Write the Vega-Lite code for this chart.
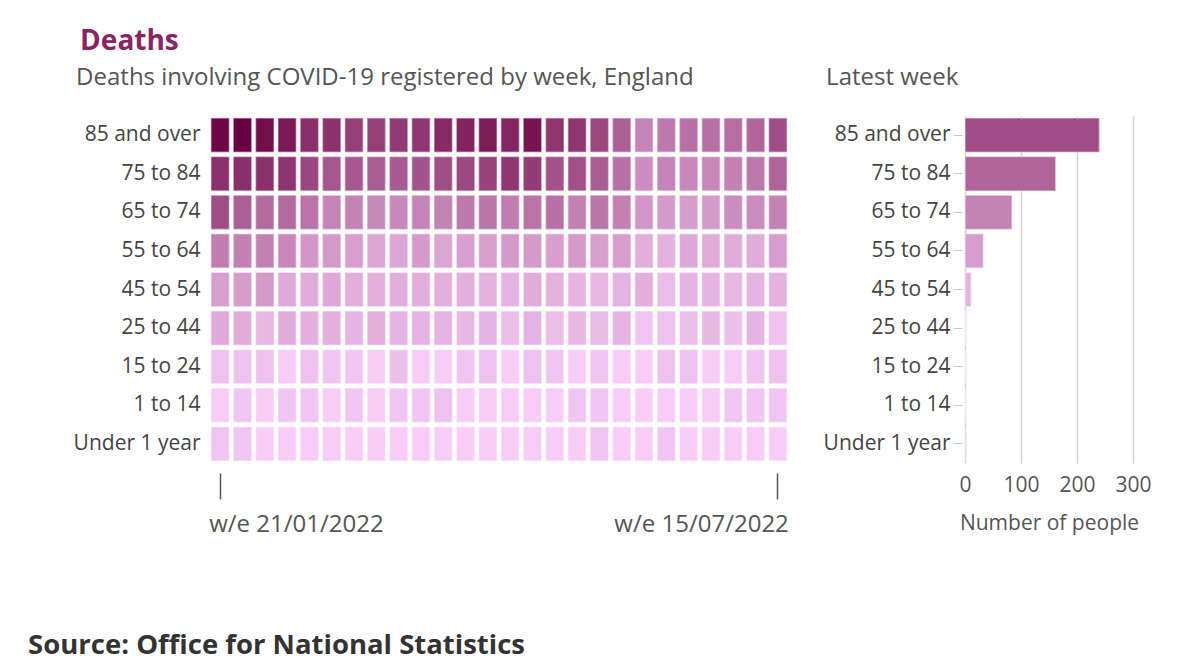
{
  "$schema": "https://vega.github.io/schema/vega-lite/v6.json",
  "background": "white",
  "padding": {"left": 28, "top": 28, "right": 5, "bottom": 5},
  "title": {"text": "Deaths", "anchor": "start", "fontSize": 28, "fontWeight": "bold", "color": "#8c2362", "font": "Open Sans", "offset": 10, "dx": 52},
  "config": {
    "view": {"stroke": null},
    "font": "Open Sans",
    "axis": {"labelFont": "Open Sans", "titleFont": "Open Sans"}
  },
  "data": {"values": [
    {"age": "85 and over", "week": "2022-01-21", "deaths": 584},
    {"age": "85 and over", "week": "2022-01-28", "deaths": 620},
    {"age": "85 and over", "week": "2022-02-04", "deaths": 543},
    {"age": "85 and over", "week": "2022-02-11", "deaths": 479},
    {"age": "85 and over", "week": "2022-02-18", "deaths": 370},
    {"age": "85 and over", "week": "2022-02-25", "deaths": 357},
    {"age": "85 and over", "week": "2022-03-04", "deaths": 293},
    {"age": "85 and over", "week": "2022-03-11", "deaths": 299},
    {"age": "85 and over", "week": "2022-03-18", "deaths": 318},
    {"age": "85 and over", "week": "2022-03-25", "deaths": 337},
    {"age": "85 and over", "week": "2022-04-01", "deaths": 391},
    {"age": "85 and over", "week": "2022-04-08", "deaths": 420},
    {"age": "85 and over", "week": "2022-04-15", "deaths": 456},
    {"age": "85 and over", "week": "2022-04-22", "deaths": 413},
    {"age": "85 and over", "week": "2022-04-29", "deaths": 503},
    {"age": "85 and over", "week": "2022-05-06", "deaths": 337},
    {"age": "85 and over", "week": "2022-05-13", "deaths": 337},
    {"age": "85 and over", "week": "2022-05-20", "deaths": 264},
    {"age": "85 and over", "week": "2022-05-27", "deaths": 180},
    {"age": "85 and over", "week": "2022-06-03", "deaths": 78},
    {"age": "85 and over", "week": "2022-06-10", "deaths": 101},
    {"age": "85 and over", "week": "2022-06-17", "deaths": 124},
    {"age": "85 and over", "week": "2022-06-24", "deaths": 124},
    {"age": "85 and over", "week": "2022-07-01", "deaths": 136},
    {"age": "85 and over", "week": "2022-07-08", "deaths": 157},
    {"age": "85 and over", "week": "2022-07-15", "deaths": 240},
    {"age": "75 to 84", "week": "2022-01-21", "deaths": 364},
    {"age": "75 to 84", "week": "2022-01-28", "deaths": 370},
    {"age": "75 to 84", "week": "2022-02-04", "deaths": 364},
    {"age": "75 to 84", "week": "2022-02-11", "deaths": 344},
    {"age": "75 to 84", "week": "2022-02-18", "deaths": 270},
    {"age": "75 to 84", "week": "2022-02-25", "deaths": 210},
    {"age": "75 to 84", "week": "2022-03-04", "deaths": 200},
    {"age": "75 to 84", "week": "2022-03-11", "deaths": 185},
    {"age": "75 to 84", "week": "2022-03-18", "deaths": 194},
    {"age": "75 to 84", "week": "2022-03-25", "deaths": 215},
    {"age": "75 to 84", "week": "2022-04-01", "deaths": 241},
    {"age": "75 to 84", "week": "2022-04-08", "deaths": 264},
    {"age": "75 to 84", "week": "2022-04-15", "deaths": 281},
    {"age": "75 to 84", "week": "2022-04-22", "deaths": 337},
    {"age": "75 to 84", "week": "2022-04-29", "deaths": 312},
    {"age": "75 to 84", "week": "2022-05-06", "deaths": 225},
    {"age": "75 to 84", "week": "2022-05-13", "deaths": 231},
    {"age": "75 to 84", "week": "2022-05-20", "deaths": 185},
    {"age": "75 to 84", "week": "2022-05-27", "deaths": 124},
    {"age": "75 to 84", "week": "2022-06-03", "deaths": 58},
    {"age": "75 to 84", "week": "2022-06-10", "deaths": 78},
    {"age": "75 to 84", "week": "2022-06-17", "deaths": 72},
    {"age": "75 to 84", "week": "2022-06-24", "deaths": 72},
    {"age": "75 to 84", "week": "2022-07-01", "deaths": 88},
    {"age": "75 to 84", "week": "2022-07-08", "deaths": 105},
    {"age": "75 to 84", "week": "2022-07-15", "deaths": 162},
    {"age": "65 to 74", "week": "2022-01-21", "deaths": 241},
    {"age": "65 to 74", "week": "2022-01-28", "deaths": 180},
    {"age": "65 to 74", "week": "2022-02-04", "deaths": 144},
    {"age": "65 to 74", "week": "2022-02-11", "deaths": 144},
    {"age": "65 to 74", "week": "2022-02-18", "deaths": 116},
    {"age": "65 to 74", "week": "2022-02-25", "deaths": 78},
    {"age": "65 to 74", "week": "2022-03-04", "deaths": 81},
    {"age": "65 to 74", "week": "2022-03-11", "deaths": 69},
    {"age": "65 to 74", "week": "2022-03-18", "deaths": 69},
    {"age": "65 to 74", "week": "2022-03-25", "deaths": 78},
    {"age": "65 to 74", "week": "2022-04-01", "deaths": 84},
    {"age": "65 to 74", "week": "2022-04-08", "deaths": 105},
    {"age": "65 to 74", "week": "2022-04-15", "deaths": 112},
    {"age": "65 to 74", "week": "2022-04-22", "deaths": 94},
    {"age": "65 to 74", "week": "2022-04-29", "deaths": 120},
    {"age": "65 to 74", "week": "2022-05-06", "deaths": 124},
    {"age": "65 to 74", "week": "2022-05-13", "deaths": 88},
    {"age": "65 to 74", "week": "2022-05-20", "deaths": 112},
    {"age": "65 to 74", "week": "2022-05-27", "deaths": 88},
    {"age": "65 to 74", "week": "2022-06-03", "deaths": 43},
    {"age": "65 to 74", "week": "2022-06-10", "deaths": 38},
    {"age": "65 to 74", "week": "2022-06-17", "deaths": 36},
    {"age": "65 to 74", "week": "2022-06-24", "deaths": 38},
    {"age": "65 to 74", "week": "2022-07-01", "deaths": 58},
    {"age": "65 to 74", "week": "2022-07-08", "deaths": 63},
    {"age": "65 to 74", "week": "2022-07-15", "deaths": 84},
    {"age": "55 to 64", "week": "2022-01-21", "deaths": 94},
    {"age": "55 to 64", "week": "2022-01-28", "deaths": 88},
    {"age": "55 to 64", "week": "2022-02-04", "deaths": 88},
    {"age": "55 to 64", "week": "2022-02-11", "deaths": 72},
    {"age": "55 to 64", "week": "2022-02-18", "deaths": 43},
    {"age": "55 to 64", "week": "2022-02-25", "deaths": 40},
    {"age": "55 to 64", "week": "2022-03-04", "deaths": 32},
    {"age": "55 to 64", "week": "2022-03-11", "deaths": 24},
    {"age": "55 to 64", "week": "2022-03-18", "deaths": 23},
    {"age": "55 to 64", "week": "2022-03-25", "deaths": 38},
    {"age": "55 to 64", "week": "2022-04-01", "deaths": 24},
    {"age": "55 to 64", "week": "2022-04-08", "deaths": 30},
    {"age": "55 to 64", "week": "2022-04-15", "deaths": 32},
    {"age": "55 to 64", "week": "2022-04-22", "deaths": 38},
    {"age": "55 to 64", "week": "2022-04-29", "deaths": 38},
    {"age": "55 to 64", "week": "2022-05-06", "deaths": 34},
    {"age": "55 to 64", "week": "2022-05-13", "deaths": 40},
    {"age": "55 to 64", "week": "2022-05-20", "deaths": 32},
    {"age": "55 to 64", "week": "2022-05-27", "deaths": 34},
    {"age": "55 to 64", "week": "2022-06-03", "deaths": 15},
    {"age": "55 to 64", "week": "2022-06-10", "deaths": 11},
    {"age": "55 to 64", "week": "2022-06-17", "deaths": 19},
    {"age": "55 to 64", "week": "2022-06-24", "deaths": 16},
    {"age": "55 to 64", "week": "2022-07-01", "deaths": 16},
    {"age": "55 to 64", "week": "2022-07-08", "deaths": 16},
    {"age": "55 to 64", "week": "2022-07-15", "deaths": 33},
    {"age": "45 to 54", "week": "2022-01-21", "deaths": 32},
    {"age": "45 to 54", "week": "2022-01-28", "deaths": 36},
    {"age": "45 to 54", "week": "2022-02-04", "deaths": 40},
    {"age": "45 to 54", "week": "2022-02-11", "deaths": 18},
    {"age": "45 to 54", "week": "2022-02-18", "deaths": 16},
    {"age": "45 to 54", "week": "2022-02-25", "deaths": 19},
    {"age": "45 to 54", "week": "2022-03-04", "deaths": 14},
    {"age": "45 to 54", "week": "2022-03-11", "deaths": 12},
    {"age": "45 to 54", "week": "2022-03-18", "deaths": 14},
    {"age": "45 to 54", "week": "2022-03-25", "deaths": 14},
    {"age": "45 to 54", "week": "2022-04-01", "deaths": 12},
    {"age": "45 to 54", "week": "2022-04-08", "deaths": 12},
    {"age": "45 to 54", "week": "2022-04-15", "deaths": 11},
    {"age": "45 to 54", "week": "2022-04-22", "deaths": 10},
    {"age": "45 to 54", "week": "2022-04-29", "deaths": 16},
    {"age": "45 to 54", "week": "2022-05-06", "deaths": 11},
    {"age": "45 to 54", "week": "2022-05-13", "deaths": 9},
    {"age": "45 to 54", "week": "2022-05-20", "deaths": 7},
    {"age": "45 to 54", "week": "2022-05-27", "deaths": 10},
    {"age": "45 to 54", "week": "2022-06-03", "deaths": 14},
    {"age": "45 to 54", "week": "2022-06-10", "deaths": 4},
    {"age": "45 to 54", "week": "2022-06-17", "deaths": 9},
    {"age": "45 to 54", "week": "2022-06-24", "deaths": 9},
    {"age": "45 to 54", "week": "2022-07-01", "deaths": 7},
    {"age": "45 to 54", "week": "2022-07-08", "deaths": 9},
    {"age": "45 to 54", "week": "2022-07-15", "deaths": 11},
    {"age": "25 to 44", "week": "2022-01-21", "deaths": 18},
    {"age": "25 to 44", "week": "2022-01-28", "deaths": 16},
    {"age": "25 to 44", "week": "2022-02-04", "deaths": 7},
    {"age": "25 to 44", "week": "2022-02-11", "deaths": 16},
    {"age": "25 to 44", "week": "2022-02-18", "deaths": 12},
    {"age": "25 to 44", "week": "2022-02-25", "deaths": 12},
    {"age": "25 to 44", "week": "2022-03-04", "deaths": 9},
    {"age": "25 to 44", "week": "2022-03-11", "deaths": 12},
    {"age": "25 to 44", "week": "2022-03-18", "deaths": 9},
    {"age": "25 to 44", "week": "2022-03-25", "deaths": 9},
    {"age": "25 to 44", "week": "2022-04-01", "deaths": 9},
    {"age": "25 to 44", "week": "2022-04-08", "deaths": 7},
    {"age": "25 to 44", "week": "2022-04-15", "deaths": 9},
    {"age": "25 to 44", "week": "2022-04-22", "deaths": 4},
    {"age": "25 to 44", "week": "2022-04-29", "deaths": 10},
    {"age": "25 to 44", "week": "2022-05-06", "deaths": 4},
    {"age": "25 to 44", "week": "2022-05-13", "deaths": 7},
    {"age": "25 to 44", "week": "2022-05-20", "deaths": 5},
    {"age": "25 to 44", "week": "2022-05-27", "deaths": 9},
    {"age": "25 to 44", "week": "2022-06-03", "deaths": 1},
    {"age": "25 to 44", "week": "2022-06-10", "deaths": 2},
    {"age": "25 to 44", "week": "2022-06-17", "deaths": 3},
    {"age": "25 to 44", "week": "2022-06-24", "deaths": 7},
    {"age": "25 to 44", "week": "2022-07-01", "deaths": 3},
    {"age": "25 to 44", "week": "2022-07-08", "deaths": 9},
    {"age": "25 to 44", "week": "2022-07-15", "deaths": 2},
    {"age": "15 to 24", "week": "2022-01-21", "deaths": 2},
    {"age": "15 to 24", "week": "2022-01-28", "deaths": 2},
    {"age": "15 to 24", "week": "2022-02-04", "deaths": 2},
    {"age": "15 to 24", "week": "2022-02-11", "deaths": 0},
    {"age": "15 to 24", "week": "2022-02-18", "deaths": 2},
    {"age": "15 to 24", "week": "2022-02-25", "deaths": 1},
    {"age": "15 to 24", "week": "2022-03-04", "deaths": 1},
    {"age": "15 to 24", "week": "2022-03-11", "deaths": 0},
    {"age": "15 to 24", "week": "2022-03-18", "deaths": 3},
    {"age": "15 to 24", "week": "2022-03-25", "deaths": 0},
    {"age": "15 to 24", "week": "2022-04-01", "deaths": 0},
    {"age": "15 to 24", "week": "2022-04-08", "deaths": 1},
    {"age": "15 to 24", "week": "2022-04-15", "deaths": 2},
    {"age": "15 to 24", "week": "2022-04-22", "deaths": 0},
    {"age": "15 to 24", "week": "2022-04-29", "deaths": 2},
    {"age": "15 to 24", "week": "2022-05-06", "deaths": 1},
    {"age": "15 to 24", "week": "2022-05-13", "deaths": 0},
    {"age": "15 to 24", "week": "2022-05-20", "deaths": 1},
    {"age": "15 to 24", "week": "2022-05-27", "deaths": 0},
    {"age": "15 to 24", "week": "2022-06-03", "deaths": 0},
    {"age": "15 to 24", "week": "2022-06-10", "deaths": 2},
    {"age": "15 to 24", "week": "2022-06-17", "deaths": 2},
    {"age": "15 to 24", "week": "2022-06-24", "deaths": 0},
    {"age": "15 to 24", "week": "2022-07-01", "deaths": 0},
    {"age": "15 to 24", "week": "2022-07-08", "deaths": 1},
    {"age": "15 to 24", "week": "2022-07-15", "deaths": 2},
    {"age": "1 to 14", "week": "2022-01-21", "deaths": 0},
    {"age": "1 to 14", "week": "2022-01-28", "deaths": 1},
    {"age": "1 to 14", "week": "2022-02-04", "deaths": 0},
    {"age": "1 to 14", "week": "2022-02-11", "deaths": 1},
    {"age": "1 to 14", "week": "2022-02-18", "deaths": 1},
    {"age": "1 to 14", "week": "2022-02-25", "deaths": 0},
    {"age": "1 to 14", "week": "2022-03-04", "deaths": 1},
    {"age": "1 to 14", "week": "2022-03-11", "deaths": 0},
    {"age": "1 to 14", "week": "2022-03-18", "deaths": 1},
    {"age": "1 to 14", "week": "2022-03-25", "deaths": 1},
    {"age": "1 to 14", "week": "2022-04-01", "deaths": 2},
    {"age": "1 to 14", "week": "2022-04-08", "deaths": 0},
    {"age": "1 to 14", "week": "2022-04-15", "deaths": 0},
    {"age": "1 to 14", "week": "2022-04-22", "deaths": 0},
    {"age": "1 to 14", "week": "2022-04-29", "deaths": 0},
    {"age": "1 to 14", "week": "2022-05-06", "deaths": 0},
    {"age": "1 to 14", "week": "2022-05-13", "deaths": 1},
    {"age": "1 to 14", "week": "2022-05-20", "deaths": 1},
    {"age": "1 to 14", "week": "2022-05-27", "deaths": 0},
    {"age": "1 to 14", "week": "2022-06-03", "deaths": 0},
    {"age": "1 to 14", "week": "2022-06-10", "deaths": 0},
    {"age": "1 to 14", "week": "2022-06-17", "deaths": 0},
    {"age": "1 to 14", "week": "2022-06-24", "deaths": 0},
    {"age": "1 to 14", "week": "2022-07-01", "deaths": 1},
    {"age": "1 to 14", "week": "2022-07-08", "deaths": 1},
    {"age": "1 to 14", "week": "2022-07-15", "deaths": 1},
    {"age": "Under 1 year", "week": "2022-01-21", "deaths": 1},
    {"age": "Under 1 year", "week": "2022-01-28", "deaths": 1},
    {"age": "Under 1 year", "week": "2022-02-04", "deaths": 0},
    {"age": "Under 1 year", "week": "2022-02-11", "deaths": 0},
    {"age": "Under 1 year", "week": "2022-02-18", "deaths": 0},
    {"age": "Under 1 year", "week": "2022-02-25", "deaths": 0},
    {"age": "Under 1 year", "week": "2022-03-04", "deaths": 0},
    {"age": "Under 1 year", "week": "2022-03-11", "deaths": 0},
    {"age": "Under 1 year", "week": "2022-03-18", "deaths": 0},
    {"age": "Under 1 year", "week": "2022-03-25", "deaths": 0},
    {"age": "Under 1 year", "week": "2022-04-01", "deaths": 0},
    {"age": "Under 1 year", "week": "2022-04-08", "deaths": 0},
    {"age": "Under 1 year", "week": "2022-04-15", "deaths": 0},
    {"age": "Under 1 year", "week": "2022-04-22", "deaths": 0},
    {"age": "Under 1 year", "week": "2022-04-29", "deaths": 0},
    {"age": "Under 1 year", "week": "2022-05-06", "deaths": 0},
    {"age": "Under 1 year", "week": "2022-05-13", "deaths": 0},
    {"age": "Under 1 year", "week": "2022-05-20", "deaths": 1},
    {"age": "Under 1 year", "week": "2022-05-27", "deaths": 0},
    {"age": "Under 1 year", "week": "2022-06-03", "deaths": 0},
    {"age": "Under 1 year", "week": "2022-06-10", "deaths": 1},
    {"age": "Under 1 year", "week": "2022-06-17", "deaths": 0},
    {"age": "Under 1 year", "week": "2022-06-24", "deaths": 0},
    {"age": "Under 1 year", "week": "2022-07-01", "deaths": 0},
    {"age": "Under 1 year", "week": "2022-07-08", "deaths": 0},
    {"age": "Under 1 year", "week": "2022-07-15", "deaths": 0}
  ]},
  "vconcat": [
    {
      "title": {"text": "Source: Office for National Statistics", "orient": "bottom", "anchor": "start", "fontSize": 27.5, "fontWeight": "bold", "color": "#333333", "font": "Open Sans", "dx": -45, "offset": 96},
      "spacing": 34,
      "hconcat": [
        {
          "title": {"text": "Deaths involving COVID-19 registered by week, England", "anchor": "start", "frame": "bounds", "fontSize": 24, "fontWeight": "normal", "color": "#555555", "font": "Open Sans", "offset": 26, "dx": 3},
          "width": 578,
          "height": 347,
          "mark": {"type": "rect", "stroke": "#ffffff", "strokeWidth": 1.5, "strokeOpacity": 0.45},
          "encoding": {
            "x": {
              "field": "week", "type": "ordinal",
              "scale": {"paddingInner": 0.17, "paddingOuter": 0.04},
              "axis": {
                "title": null, "values": ["2022-01-21", "2022-07-15"],
                "labelExpr": "'w/e ' + utcFormat(toDate(datum.value), '%d/%m/%Y')",
                "labelAngle": 0, "domain": false, "ticks": true, "tickSize": 26, "tickWidth": 1.5, "tickColor": "#555555",
                "offset": 10, "labelPadding": 13, "labelFontSize": 24, "labelColor": "#555555",
                "labelAlign": {"condition": {"test": "datum.value == '2022-01-21'", "value": "left"}, "value": "right"},
                "labelOffset": {"condition": {"test": "datum.value == '2022-01-21'", "value": -11}, "value": 11}
              }
            },
            "y": {
              "field": "age", "type": "ordinal",
              "sort": ["85 and over", "75 to 84", "65 to 74", "55 to 64", "45 to 54", "25 to 44", "15 to 24", "1 to 14", "Under 1 year"],
              "scale": {"paddingInner": 0.11, "paddingOuter": 0.05},
              "axis": {"title": null, "domain": false, "ticks": false, "labelPadding": 10, "labelFontSize": 21, "labelColor": "#444444"}
            },
            "color": {
              "field": "deaths", "type": "quantitative",
              "scale": {"type": "sqrt", "domain": [0, 620], "range": ["#f7cdf8", "#6a0040"], "interpolate": "rgb"},
              "legend": null
            }
          }
        },
        {
          "title": {"text": "Latest week", "anchor": "start", "frame": "bounds", "fontSize": 24, "fontWeight": "normal", "color": "#555555", "font": "Open Sans", "offset": 26, "dx": 3},
          "width": 168,
          "height": 347,
          "transform": [{"filter": "datum.week == '2022-07-15'"}],
          "mark": {"type": "bar", "stroke": "#ffffff", "strokeWidth": 1.5, "strokeOpacity": 0.45},
          "encoding": {
            "y": {
              "field": "age", "type": "ordinal",
              "sort": ["85 and over", "75 to 84", "65 to 74", "55 to 64", "45 to 54", "25 to 44", "15 to 24", "1 to 14", "Under 1 year"],
              "scale": {"paddingInner": 0.11, "paddingOuter": 0.05},
              "axis": {"title": null, "domain": false, "ticks": true, "tickSize": 9, "tickColor": "#c8c8c8", "offset": 3, "labelPadding": 3, "labelFontSize": 21, "labelColor": "#444444"}
            },
            "x": {
              "field": "deaths", "type": "quantitative",
              "scale": {"domain": [0, 300], "nice": false},
              "axis": {"title": "Number of people", "values": [0, 100, 200, 300], "labelFlush": false, "grid": true, "gridColor": "#d0d0d0", "gridWidth": 1.5, "domain": false, "ticks": false, "labelPadding": 11, "labelFontSize": 21, "labelColor": "#555555", "titleFontSize": 21, "titleFontWeight": "normal", "titleColor": "#555555", "titlePadding": 17}
            },
            "color": {
              "field": "deaths", "type": "quantitative",
              "scale": {"type": "sqrt", "domain": [0, 620], "range": ["#f7cdf8", "#6a0040"], "interpolate": "rgb"},
              "legend": null
            }
          }
        }
      ]
    }
  ]
}
